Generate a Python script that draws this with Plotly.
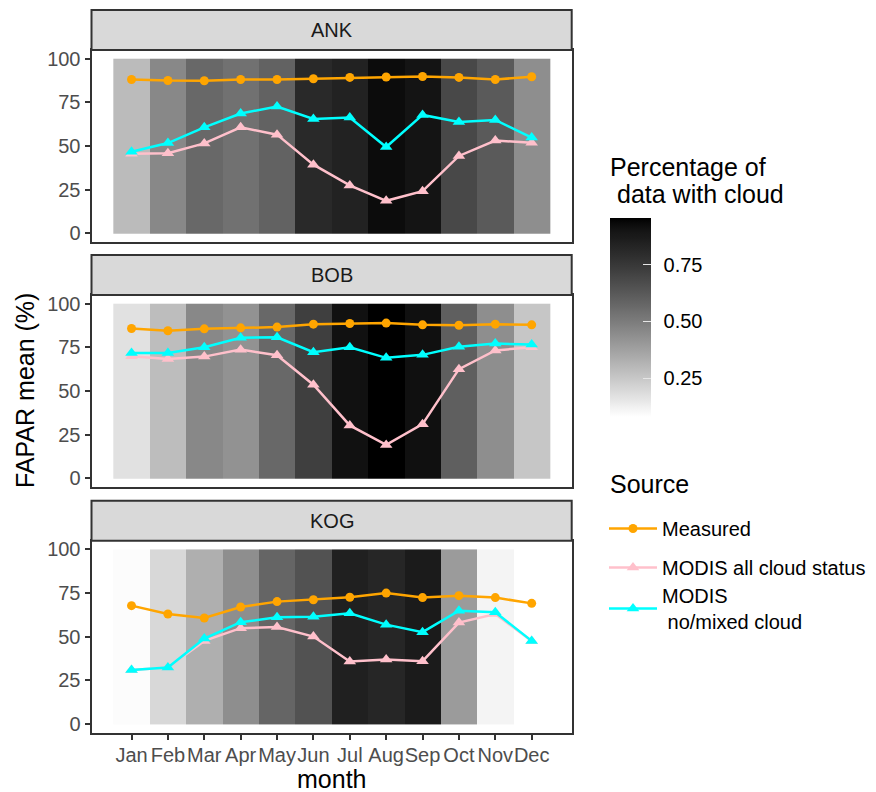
import numpy as np
import plotly.graph_objects as go

# The page body has an 8px margin, so the figure is drawn 8px smaller and
# every reference pixel coordinate is shifted by that offset.
PAGE_W, PAGE_H, OFF = 876, 792, 8
W, H = PAGE_W - OFF, PAGE_H - OFF

months = ["Jan", "Feb", "Mar", "Apr", "May", "Jun", "Jul", "Aug", "Sep", "Oct", "Nov", "Dec"]
month_num = list(range(1, 13))
sites = ["ANK", "BOB", "KOG"]

# Percentage of data with cloud (tile fill)
cloud_ANK = [0.29, 0.46, 0.57, 0.54, 0.59, 0.81, 0.84, 0.925, 0.90, 0.69, 0.62, 0.44]
cloud_BOB = [0.17, 0.285, 0.46, 0.425, 0.57, 0.72, 0.91, 0.955, 0.915, 0.60, 0.44, 0.255]
cloud_KOG = [0.09, 0.20, 0.33, 0.44, 0.58, 0.65, 0.85, 0.825, 0.87, 0.395, 0.115, None]

# FAPAR mean (%)
measured_ANK = [88.1, 87.5, 87.4, 88.1, 88.1, 88.5, 89.3, 89.5, 89.8, 89.3, 88.1, 89.7]
modis_all_ANK = [45.6, 45.8, 51.5, 60.7, 56.5, 39.3, 27.4, 18.6, 24.1, 44.3, 53.1, 51.9]
modis_clear_ANK = [46.7, 51.7, 60.7, 68.6, 72.6, 65.5, 66.3, 49.4, 67.8, 63.8, 64.9, 54.8]

measured_BOB = [85.8, 84.5, 85.6, 86.2, 86.6, 88.3, 88.7, 88.9, 87.9, 87.7, 88.3, 87.9]
modis_all_BOB = [69.9, 68.4, 69.7, 73.7, 70.5, 53.6, 30.3, 19.1, 31.0, 62.5, 73.2, 75.1]
modis_clear_BOB = [71.8, 71.8, 75.1, 80.5, 80.8, 72.2, 75.1, 69.0, 70.7, 75.3, 77.2, 76.6]

measured_KOG = [67.8, 63.0, 60.7, 67.0, 70.1, 71.2, 72.6, 75.0, 72.4, 73.5, 72.4, 69.1]
modis_all_KOG = [30.9, 32.4, 47.6, 54.9, 55.6, 50.1, 35.8, 36.9, 36.0, 58.1, 63.0, 47.6]
modis_clear_KOG = [30.9, 32.4, 48.9, 58.3, 61.1, 61.5, 63.4, 56.9, 52.6, 64.9, 64.0, 47.6]

cloud = {"ANK": cloud_ANK, "BOB": cloud_BOB, "KOG": cloud_KOG}
series = {
    "ANK": [measured_ANK, modis_all_ANK, modis_clear_ANK],
    "BOB": [measured_BOB, modis_all_BOB, modis_clear_BOB],
    "KOG": [measured_KOG, modis_all_KOG, modis_clear_KOG],
}
source_names = ["Measured", "MODIS all cloud status", "MODIS<br> no/mixed cloud"]
source_colors = ["#FFA500", "#FFC0CB", "#00FFFF"]
source_symbols = ["circle", "triangle-up", "triangle-up"]
source_sizes = [9, 11, 11]
source_legends = ["legend", "legend", "legend2"]

# white -> black gradient interpolated in CIELAB (like ggplot2)
def lab_gray(t):
    L = 100 * (1 - t)
    fy = (L + 16) / 116
    Y = fy ** 3 if fy ** 3 > 0.008856 else L / 903.3
    s = 12.92 * Y if Y <= 0.0031308 else 1.055 * Y ** (1 / 2.4) - 0.055
    g = int(round(255 * min(max(s, 0), 1)))
    return f"rgb({g},{g},{g})"

colorscale = [[float(t), lab_gray(t)] for t in np.linspace(0, 1, 41)]

def px_x(p):
    return (p - OFF) / W

def px_y(p):
    return 1 - (p - OFF) / H

x0, x1 = 91.5, 571.7
panels = {"ANK": (50, 242), "BOB": (295, 487), "KOG": (540.7, 732.7)}
strip_h = 40

fig = go.Figure()
layout = dict(
    width=W, height=H,
    margin=dict(l=0, r=0, t=0, b=0, autoexpand=False),
    paper_bgcolor="white", plot_bgcolor="white",
    font=dict(family="Liberation Sans, Arial, sans-serif", size=20, color="#1a1a1a"),
    showlegend=True,
)

shapes = []
annotations = []
for i, site in enumerate(sites):
    k = "" if i == 0 else str(i + 1)
    xa, ya = "x" + k, "y" + k
    top, bot = panels[site]
    layout["xaxis" + k] = dict(
        domain=[px_x(x0), px_x(x1)], range=[-0.1, 13.1], anchor=ya,
        tickvals=month_num, ticktext=months if site == "KOG" else [""] * 12,
        ticks="outside" if site == "KOG" else "", ticklen=5, tickwidth=1.8, tickcolor="#333333",
        tickangle=0, automargin=False, ticklabelstandoff=-2,
        showline=True, mirror=True, linecolor="#333333", linewidth=2,
        showgrid=False, zeroline=False,
        tickfont=dict(size=20, color="#4d4d4d"),
    )
    layout["yaxis" + k] = dict(
        domain=[px_y(bot), px_y(top)], range=[-5, 105], anchor=xa,
        tickvals=[0, 25, 50, 75, 100], ticks="outside", ticklen=5, tickwidth=1.8,
        tickcolor="#333333", showline=True, mirror=True, linecolor="#333333", linewidth=2,
        showgrid=False, zeroline=False, automargin=False,
        tickfont=dict(size=20, color="#4d4d4d"),
    )
    fig.add_trace(go.Heatmap(
        x=month_num, y=[0, 100], z=[cloud[site]], coloraxis="coloraxis",
        xaxis=xa, yaxis=ya, hoverinfo="skip", showscale=False,
    ))
    for j in range(3):
        fig.add_trace(go.Scatter(
            x=month_num, y=series[site][j], mode="lines+markers",
            name=source_names[j], legendgroup=source_names[j], legend=source_legends[j],
            showlegend=(i == 0),
            line=dict(color=source_colors[j], width=2.5),
            marker=dict(color=source_colors[j], symbol=source_symbols[j], size=source_sizes[j]),
            xaxis=xa, yaxis=ya,
        ))
    # facet strip
    shapes.append(dict(type="rect", xref="paper", yref="paper",
                       x0=px_x(x0), x1=px_x(x1), y0=px_y(top), y1=px_y(top - strip_h),
                       fillcolor="#d9d9d9", line=dict(color="#333333", width=2), layer="above"))
    annotations.append(dict(text=site, xref="paper", yref="paper",
                            x=px_x((x0 + x1) / 2), y=px_y(top - strip_h / 2),
                            showarrow=False, font=dict(size=20, color="#1a1a1a"),
                            xanchor="center", yanchor="middle"))

annotations.append(dict(text="FAPAR mean (%)", xref="paper", yref="paper",
                        x=px_x(25), y=px_y(391), textangle=-90, showarrow=False,
                        font=dict(size=25, color="black"), xanchor="center", yanchor="middle"))
annotations.append(dict(text="month", xref="paper", yref="paper",
                        x=px_x((x0 + x1) / 2), y=px_y(778.5), showarrow=False,
                        font=dict(size=25, color="black"), xanchor="center", yanchor="middle"))
# colour-bar title (two lines, tight spacing as in the reference)
annotations.append(dict(text="Percentage of", xref="paper", yref="paper",
                        x=px_x(608), y=px_y(167), showarrow=False,
                        font=dict(size=25, color="black"), xanchor="left", yanchor="middle"))
annotations.append(dict(text="data with cloud", xref="paper", yref="paper",
                        x=px_x(615), y=px_y(194), showarrow=False,
                        font=dict(size=25, color="black"), xanchor="left", yanchor="middle"))
# legend title
annotations.append(dict(text="Source", xref="paper", yref="paper",
                        x=px_x(608), y=px_y(484), showarrow=False,
                        font=dict(size=25, color="black"), xanchor="left", yanchor="middle"))

layout["shapes"] = shapes
layout["annotations"] = annotations
layout["coloraxis"] = dict(
    colorscale=colorscale, cmin=0.08, cmax=0.955,
    colorbar=dict(
        x=px_x(610), xanchor="left", y=px_y(417), yanchor="bottom",
        len=199 / H, lenmode="fraction", thickness=41, thicknessmode="pixels",
        xpad=0, ypad=0, outlinewidth=0,
        tickvals=[0.25, 0.5, 0.75],
        ticktext=["\u2009\u20090.25", "\u2009\u20090.50", "\u2009\u20090.75"],
        ticks="inside", ticklen=8, tickcolor="#e6e6e6", tickwidth=1.2,
        tickfont=dict(size=20, color="black"),
    ),
)
layout["legend"] = dict(
    x=px_x(604), xanchor="left", y=px_y(509), yanchor="top",
    font=dict(size=20, color="black"), tracegroupgap=10, itemwidth=48,
    bgcolor="rgba(0,0,0,0)",
)
layout["legend2"] = dict(
    x=px_x(604), xanchor="left", y=px_y(576), yanchor="top",
    font=dict(size=20, color="black"), itemwidth=48,
    bgcolor="rgba(0,0,0,0)",
)
fig.update_layout(**layout)
fig.write_html("out.html")
